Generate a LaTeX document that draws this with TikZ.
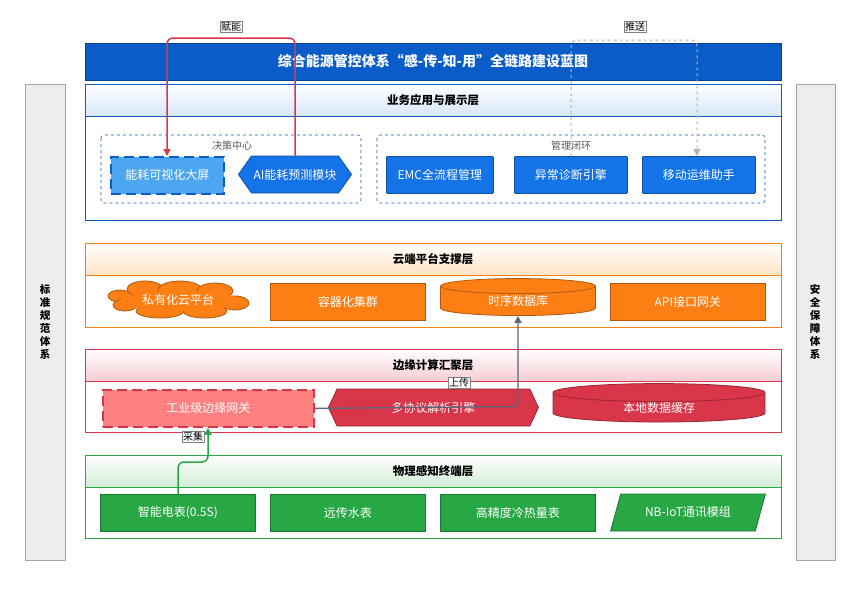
\documentclass[tikz,border=0pt]{standalone}
\usepackage{fontspec}
\setmainfont{Noto Sans CJK SC}
\usepackage{tikz}
\usetikzlibrary{positioning, shapes.geometric, shapes.symbols, arrows.meta, calc}
\definecolor{deepblue}{HTML}{0A5CC8}
\definecolor{midblue}{HTML}{1473E6}
\definecolor{lightblue}{HTML}{4DA6F0}
\definecolor{headblue}{HTML}{D6E6FA}
\definecolor{cloudorange}{HTML}{FD7F14}
\definecolor{headorange}{HTML}{FDE3C4}
\definecolor{edgered}{HTML}{D9364A}
\definecolor{softred}{HTML}{FF8080}
\definecolor{headred}{HTML}{F7CCD3}
\definecolor{sensegreen}{HTML}{28A745}
\definecolor{headgreen}{HTML}{D3EDD6}
\definecolor{linkgray}{HTML}{5A6478}
\definecolor{sidegray}{HTML}{EDEDED}

\tikzset{
  layer/.style={draw=#1, line width=0.8pt, fill=white},
  head/.style={draw=#1, line width=0.8pt},
  htext/.style={font=\bfseries\fontsize{11.5}{13}\selectfont},
  box/.style={draw=#1!70!black, fill=#1, text=white, font=\fontsize{12}{14}\selectfont, inner sep=0pt,
    minimum height=37pt, line width=0.8pt},
  longdash/.style={dash pattern=on 10pt off 5pt, line width=1.8pt},
  group/.style={draw=deepblue, dashed, line width=0.6pt, rounded corners=3pt},
  glabel/.style={font=\itshape\fontsize{10}{12}\selectfont, text=gray!70!black},
  tag/.style={draw=gray, fill=white, font=\fontsize{10}{12}\selectfont, inner sep=1pt},
}

\begin{document}
\begin{tikzpicture}[x=1pt, y=-1pt]
\useasboundingbox (0,0) rectangle (863,590);
\fill[white] (0,0) rectangle (863,590);

% side bars
\draw[gray!70, fill=sidegray] (25,84) rectangle (65,560);
\node[font=\bfseries\fontsize{10.5}{13}\selectfont, align=center, inner sep=0pt] (std) at (45,322) {标\\准\\规\\范\\体\\系};
\draw[gray!70, fill=sidegray] (796,84) rectangle (835,560);
\node[font=\bfseries\fontsize{10.5}{13}\selectfont, align=center, inner sep=0pt] (sec) at (815,322) {安\\全\\保\\障\\体\\系};

% title
\draw[fill=deepblue, draw=deepblue!70!black] (85,43) rectangle (781,80);
\node[text=white, font=\bfseries\fontsize{14}{16}\selectfont] (title) at (433,61) {综合能源管控体系“感-传-知-用”全链路建设蓝图};

% layer 1
\draw[layer=deepblue] (85,84) rectangle (781,220);
\shade[top color=white, bottom color=headblue] (85,84) rectangle (781,116);
\draw[head=deepblue] (85,84) rectangle (781,116);
\node[htext] (l1) at (433,100) {业务应用与展示层};
\draw[group] (101,135) rectangle (361,203);
\node[glabel] (g1) at (232,146) {决策中心};
\draw[group] (377,135) rectangle (765,203);
\node[glabel] (g2) at (571,146) {管理闭环};
\node[box=lightblue, draw=deepblue, longdash, minimum width=113pt, anchor=north west] (screen) at (110,156) {能耗可视化大屏};
\node[box=midblue, signal, signal to=west and east, signal pointer angle=110, minimum width=113pt, anchor=west] (ai) at (238,174.5) {AI能耗预测模块};
\node[box=midblue, minimum width=107pt, anchor=north west, rounded corners=1pt] (emc) at (386,156) {EMC全流程管理};
\node[box=midblue, minimum width=113pt, anchor=north west, rounded corners=1pt] (diag) at (514,156) {异常诊断引擎};
\node[box=midblue, minimum width=113pt, anchor=north west, rounded corners=1pt] (mobile) at (642,156) {移动运维助手};

% layer 2
\draw[layer=cloudorange] (85,243) rectangle (781,327);
\shade[top color=white, bottom color=headorange] (85,243) rectangle (781,275);
\draw[head=cloudorange] (85,243) rectangle (781,275);
\node[htext] (l2) at (433,259) {云端平台支撑层};
% cloud drawn from puffs
\begin{scope}[draw=cloudorange!70!black, fill=cloudorange, line width=0.8pt]
  \filldraw (120,296) ellipse (12 and 6);
  \filldraw (145,289) ellipse (18 and 8);
  \filldraw (180,290) ellipse (22 and 9);
  \filldraw (215,291) ellipse (18 and 8);
  \filldraw (235,303) ellipse (14 and 7);
  \filldraw (205,311) ellipse (22 and 7);
  \filldraw (160,311) ellipse (24 and 7);
  \filldraw (125,305) ellipse (12 and 6);
  \fill (180,301) ellipse (60 and 10);
\end{scope}
\node[text=white, font=\fontsize{12}{14}\selectfont] (cloud) at (178,300) {私有化云平台};
\node[box=cloudorange, minimum width=155pt, anchor=north west] (cluster) at (270,283) {容器化集群};
\node[box=cloudorange, cylinder, shape border rotate=90, aspect=0.25, minimum width=155pt, minimum height=37pt] (tsdb) at (518,301) {时序数据库};
\node[box=cloudorange, minimum width=155pt, anchor=north west] (api) at (610,283) {API接口网关};

% layer 3
\draw[layer=edgered] (85,349) rectangle (781,432);
\shade[top color=white, bottom color=headred] (85,349) rectangle (781,381);
\draw[head=edgered] (85,349) rectangle (781,381);
\node[htext] (l3) at (433,365) {边缘计算汇聚层};
\node[box=softred, draw=edgered, longdash, minimum width=211pt, anchor=north west] (gateway) at (102,389) {工业级边缘网关};
\node[box=edgered, signal, signal to=west and east, signal pointer angle=130, minimum width=210pt, anchor=west] (parser) at (328,407.5) {多协议解析引擎};
\node[box=edgered, cylinder, shape border rotate=90, aspect=0.25, minimum width=212pt, minimum height=37pt] (cache) at (659,407.5) {本地数据缓存};

% layer 4
\draw[layer=sensegreen] (85,455) rectangle (781,538);
\shade[top color=white, bottom color=headgreen] (85,455) rectangle (781,487);
\draw[head=sensegreen] (85,455) rectangle (781,487);
\node[htext] (l4) at (433,471) {物理感知终端层};
\node[box=sensegreen, minimum width=155pt, anchor=north west] (meter) at (100,494) {智能电表(0.5S)};
\node[box=sensegreen, minimum width=155pt, anchor=north west] (water) at (270,494) {远传水表};
\node[box=sensegreen, minimum width=155pt, anchor=north west] (heat) at (440,494) {高精度冷热量表};
\node[box=sensegreen, trapezium, trapezium left angle=60, trapezium right angle=120, trapezium stretches=true, minimum width=155pt, minimum height=37pt] (nbiot) at (688,512.5) {NB-IoT通讯模组};

% connectors
\draw[edgered, line width=1.5pt, rounded corners=6pt, -{Triangle[length=7pt,width=7pt]}]
  (ai.north -| 295,0) -- (295,38) -- (167,38) -- (screen.north -| 167,0);
\node[tag] (fu) at (231,27) {赋能};
\draw[gray!60, dashed, line width=1pt, rounded corners=6pt, -{Triangle[length=7pt,width=7pt]}]
  (diag.north -| 571,0) -- (571,40) -- (697,40) -- (mobile.north -| 697,0);
\node[tag] (push) at (635,27) {推送};
\draw[linkgray, line width=1.3pt, rounded corners=5pt, -{Triangle[length=7pt,width=7pt]}]
  (gateway.east) -- (518,406.5) -- (tsdb.south);
\node[tag] (up) at (459,383) {上传};
\draw[sensegreen, line width=1.5pt, rounded corners=6pt, -{Triangle[length=7pt,width=7pt]}]
  (meter.north -| 178,0) -- (178,462) -- (208,462) -- (gateway.south -| 208,0);
\node[tag] (col) at (193,437) {采集};
\end{tikzpicture}
\end{document}
